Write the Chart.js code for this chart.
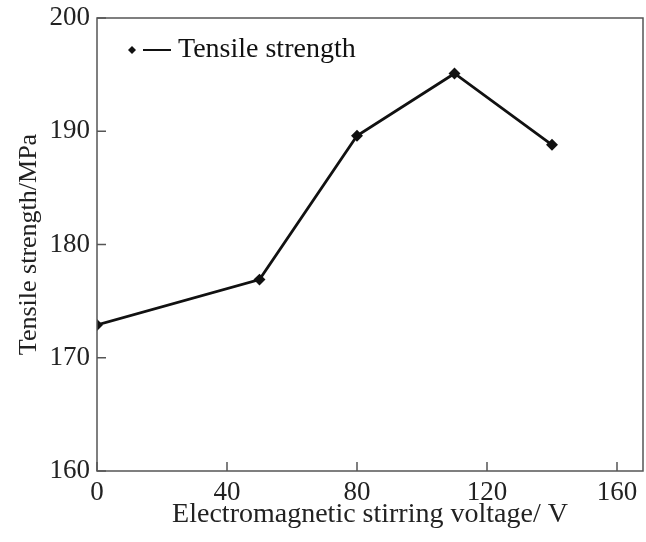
<!DOCTYPE html>
<html>
<head>
<meta charset="utf-8">
<script src="https://cdn.jsdelivr.net/npm/chart.js@4/dist/chart.umd.min.js"></script>
<style>
  html, body { margin: 0; padding: 0; background: #fff; }
  #wrap { width: 646px; height: 542px; }
</style>
</head>
<body>
<div id="wrap"><canvas id="chart" width="646" height="542"></canvas></div>
<script>
const voltage = [0, 50, 80, 110, 140];
const strength = [172.9, 176.9, 189.6, 195.1, 188.8];
const xTicks = [0, 40, 80, 120, 160];
const yTicks = [160, 170, 180, 190, 200];
const seriesLabel = 'Tensile strength';

const family = '"Liberation Serif", "Times New Roman", serif';
const tickFont = { family, size: 27 };
const axisColor = '#555';

// box frame, inward ticks and an in-plot legend
const framePlugin = {
  id: 'frame',
  afterDraw(chart) {
    const { ctx, chartArea: a, scales } = chart;
    ctx.save();
    ctx.strokeStyle = axisColor;
    ctx.lineWidth = 1.5;
    ctx.strokeRect(a.left, a.top, a.right - a.left, a.bottom - a.top);
    ctx.beginPath();
    xTicks.forEach((v) => {
      const x = scales.x.getPixelForValue(v);
      ctx.moveTo(x, a.bottom);
      ctx.lineTo(x, a.bottom - 9);
    });
    yTicks.forEach((v) => {
      const y = scales.y.getPixelForValue(v);
      ctx.moveTo(a.left, y);
      ctx.lineTo(a.left + 9, y);
    });
    ctx.stroke();

    // legend
    const lx = a.left + 35;
    const ly = a.top + 32;
    ctx.fillStyle = '#111';
    ctx.beginPath();
    ctx.moveTo(lx, ly - 4);
    ctx.lineTo(lx + 4, ly);
    ctx.lineTo(lx, ly + 4);
    ctx.lineTo(lx - 4, ly);
    ctx.closePath();
    ctx.fill();
    ctx.strokeStyle = '#111';
    ctx.lineWidth = 2;
    ctx.beginPath();
    ctx.moveTo(lx + 11, ly);
    ctx.lineTo(lx + 39, ly);
    ctx.stroke();
    ctx.font = `28px ${family}`;
    ctx.textBaseline = 'middle';
    ctx.textAlign = 'left';
    ctx.fillText(seriesLabel, lx + 46, ly);
    ctx.restore();
  },
};

new Chart(document.getElementById('chart'), {
  type: 'line',
  data: {
    datasets: [
      {
        label: seriesLabel,
        data: voltage.map((v, i) => ({ x: v, y: strength[i] })),
        borderColor: '#111',
        backgroundColor: '#111',
        borderWidth: 2.8,
        pointStyle: 'rectRot',
        pointRadius: 4,
        tension: 0,
      },
    ],
  },
  options: {
    responsive: false,
    animation: false,
    layout: { autoPadding: false, padding: { top: 18, right: 3, left: 0, bottom: 0 } },
    scales: {
      x: {
        type: 'linear',
        min: 0,
        max: 168,
        afterBuildTicks: (scale) => { scale.ticks = xTicks.map((v) => ({ value: v })); },
        afterFit: (scale) => {
          scale.height = 71;
          scale.paddingLeft = 0;
          scale.paddingRight = 0;
        },
        grid: { display: false, drawTicks: false },
        border: { display: false },
        ticks: { color: '#222', font: tickFont, padding: 6, maxRotation: 0 },
        title: {
          display: true,
          text: 'Electromagnetic stirring voltage/ V',
          color: '#222',
          font: { family, size: 28 },
          padding: { top: 0, bottom: 11 },
        },
      },
      y: {
        min: 160,
        max: 200,
        afterBuildTicks: (scale) => { scale.ticks = yTicks.map((v) => ({ value: v })); },
        afterFit: (scale) => {
          scale.width = 97;
          scale.paddingTop = 0;
          scale.paddingBottom = 0;
        },
        grid: { display: false, drawTicks: false },
        border: { display: false },
        ticks: { color: '#222', font: tickFont, padding: 7 },
        title: {
          display: true,
          text: 'Tensile strength/MPa',
          color: '#222',
          font: { family, size: 26 },
          padding: { top: 14, bottom: 0 },
        },
      },
    },
    plugins: {
      legend: { display: false },
      tooltip: { enabled: false },
    },
  },
  plugins: [framePlugin],
});
</script>
</body>
</html>
